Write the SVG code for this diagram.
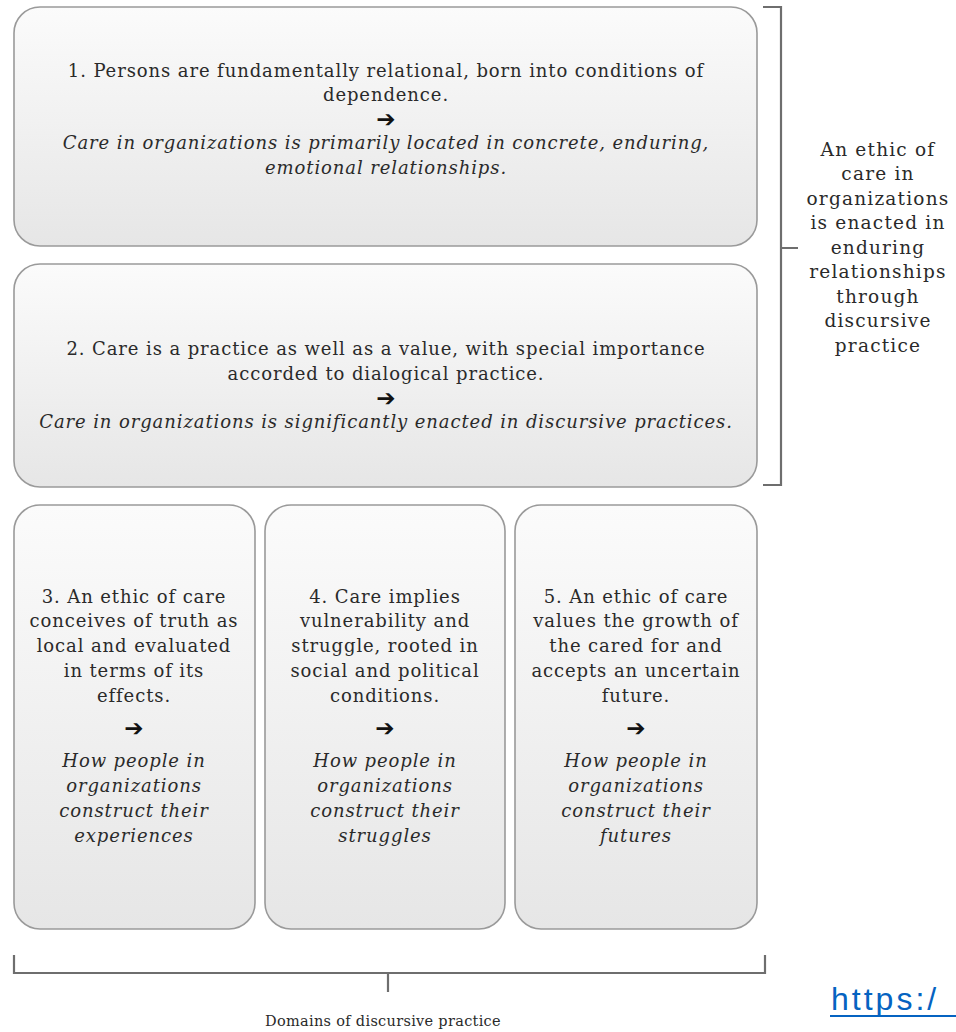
<svg xmlns="http://www.w3.org/2000/svg" width="956" height="1032" viewBox="0 0 956 1032">
<defs>
<linearGradient id="g" x1="0" y1="0" x2="0" y2="1">
<stop offset="0" stop-color="#fbfbfb"/>
<stop offset="1" stop-color="#e6e6e6"/>
</linearGradient>
<style>
.box{fill:url(#g);stroke:#9a9a9a;stroke-width:1.6}
.t{font-family:"DejaVu Serif","Liberation Serif",serif;font-size:18px;letter-spacing:0.9px;fill:#2a2a2a;text-anchor:middle}
.i{font-style:italic}
.ar{font-family:"DejaVu Sans",sans-serif;font-size:23px;fill:#111;text-anchor:middle;font-weight:bold}
.br{fill:none;stroke:#6e6e6e;stroke-width:2.2}
.lab{font-family:"DejaVu Serif","Liberation Serif",serif;font-size:18.5px;letter-spacing:1.2px;fill:#2a2a2a;text-anchor:middle}
</style>
</defs>
<rect width="956" height="1032" fill="#fff"/>
<g id="node1">
<rect class="box" x="14" y="7" width="743" height="239" rx="26"/>
<text class="t" x="386" y="77">1. Persons are fundamentally relational, born into conditions of</text>
<text class="t" x="386" y="101">dependence.</text>
<text class="ar" x="386" y="127">➔</text>
<text class="t i" x="386" y="149">Care in organizations is primarily located in concrete, enduring,</text>
<text class="t i" x="386" y="174">emotional relationships.</text>
</g>
<g id="node2">
<rect class="box" x="14" y="264" width="743" height="223" rx="26"/>
<text class="t" x="386" y="355">2. Care is a practice as well as a value, with special importance</text>
<text class="t" x="386" y="380">accorded to dialogical practice.</text>
<text class="ar" x="386" y="406">➔</text>
<text class="t i" x="386" y="428">Care in organizations is significantly enacted in discursive practices.</text>
</g>
<g id="node3">
<rect class="box" x="14" y="505" width="241" height="424" rx="26"/>
<text class="t" x="134" y="603">3. An ethic of care</text>
<text class="t" x="134" y="627">conceives of truth as</text>
<text class="t" x="134" y="652">local and evaluated</text>
<text class="t" x="134" y="677">in terms of its</text>
<text class="t" x="134" y="702">effects.</text>
<text class="ar" x="134" y="736">➔</text>
<text class="t i" x="134" y="767">How people in</text>
<text class="t i" x="134" y="792">organizations</text>
<text class="t i" x="134" y="817">construct their</text>
<text class="t i" x="134" y="842">experiences</text>
</g>
<g id="node4">
<rect class="box" x="265" y="505" width="240" height="424" rx="26"/>
<text class="t" x="385" y="603">4. Care implies</text>
<text class="t" x="385" y="627">vulnerability and</text>
<text class="t" x="385" y="652">struggle, rooted in</text>
<text class="t" x="385" y="677">social and political</text>
<text class="t" x="385" y="702">conditions.</text>
<text class="ar" x="385" y="736">➔</text>
<text class="t i" x="385" y="767">How people in</text>
<text class="t i" x="385" y="792">organizations</text>
<text class="t i" x="385" y="817">construct their</text>
<text class="t i" x="385" y="842">struggles</text>
</g>
<g id="node5">
<rect class="box" x="515" y="505" width="242" height="424" rx="26"/>
<text class="t" x="636" y="603">5. An ethic of care</text>
<text class="t" x="636" y="627">values the growth of</text>
<text class="t" x="636" y="652">the cared for and</text>
<text class="t" x="636" y="677">accepts an uncertain</text>
<text class="t" x="636" y="702">future.</text>
<text class="ar" x="636" y="736">➔</text>
<text class="t i" x="636" y="767">How people in</text>
<text class="t i" x="636" y="792">organizations</text>
<text class="t i" x="636" y="817">construct their</text>
<text class="t i" x="636" y="842">futures</text>
</g>
<g id="connectors">
<path class="br" d="M763 7 H781 V485 H763 M781 248 H798"/>
<path class="br" d="M14 955 V973 H765 V955 M388 973 V992"/>
</g>
<g id="label-right">
<text class="lab" x="878" y="156">An ethic of</text>
<text class="lab" x="878" y="180">care in</text>
<text class="lab" x="878" y="205">organizations</text>
<text class="lab" x="878" y="229">is enacted in</text>
<text class="lab" x="878" y="254">enduring</text>
<text class="lab" x="878" y="278">relationships</text>
<text class="lab" x="878" y="303">through</text>
<text class="lab" x="878" y="327">discursive</text>
<text class="lab" x="878" y="352">practice</text>
</g>
<g id="label-bottom">
<text class="lab" x="383" y="1026" style="font-size:14.5px;letter-spacing:0.3px">Domains of discursive practice</text>
</g>
<g id="link">
<text x="831" y="1010" style="font-family:'Liberation Sans',sans-serif;font-size:32px;letter-spacing:3px;fill:#0563c1">https:/</text>
<line x1="830" y1="1016" x2="956" y2="1016" stroke="#0563c1" stroke-width="1.8"/>
</g>
</svg>
